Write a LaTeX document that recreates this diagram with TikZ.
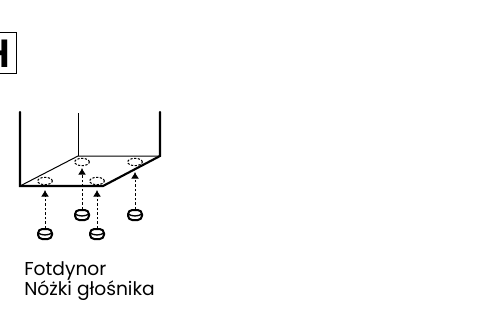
\documentclass[tikz,border=0pt]{standalone}
\usepackage{fontspec}
\setmainfont{Poppins}
\newfontfamily\hfont{Liberation Sans}
\usetikzlibrary{arrows.meta,shapes.geometric}
\tikzset{
  wall/.style={line width=1.6pt,line cap=round,line join=miter},
  thin edge/.style={line width=0.75pt},
  seat/.style={draw,dash pattern=on 1.7pt off 1.1pt,line width=0.75pt,ellipse,minimum width=11pt,minimum height=5.5pt,inner sep=0pt},
  foot/.style={line width=1.5pt},
  lift/.style={dash pattern=on 2pt off 1.4pt,line width=0.75pt,-{Latex[length=5pt,width=6pt]}},
  caption/.style={font=\fontsize{14pt}{14.25pt}\selectfont,align=left,inner sep=0pt,anchor=north west}
}
\begin{document}
\begin{tikzpicture}[x=0.75pt,y=-0.75pt]
\useasboundingbox (0,0) rectangle (481,330);
\begin{scope}
\clip (0,0) rectangle (481,330);
\node[inner sep=0pt,anchor=east,font=\fontsize{30pt}{30pt}\hfont\bfseries] (H) at (10.5,53.5) {H};
\draw[line width=1pt] (-5,32.5) -- (16.5,32.5) -- (16.5,73.5) -- (-5,73.5);
\end{scope}
% speaker
\coordinate (a) at (20,186);
\coordinate (b) at (103,186);
\coordinate (c) at (160,156);
\coordinate (d) at (78,156);
\coordinate (at) at (20,112);
\coordinate (ct) at (160,112);
\coordinate (dt) at (78,113);
\draw[thin edge] (d) -- (dt);
\draw[thin edge] (a) -- (d) -- (c);
\draw[wall] (at) -- (a) -- (b) -- (c) -- (ct);
% seats
\node[seat] (s1) at (45,181) {};
\node[seat] (s2) at (82,162) {};
\node[seat] (s3) at (97,181) {};
\node[seat] (s4) at (135,162) {};
% feet
\foreach \n/\x/\y in {f1/45/234,f2/82/215,f3/97/234,f4/135/215}{
  \coordinate (\n) at (\x,\y);
  \draw[foot,rounded corners=3.2pt] (\x-7,\y-5) rectangle (\x+7,\y+5);
  \draw[line width=1pt] (\x-7,\y-1) .. controls (\x-3,\y+1.6) and (\x+3,\y+1.6) .. (\x+7,\y-1);
  \coordinate (\n t) at (\x,\y-5.5);
}
\coordinate (t1) at (45,190);
\coordinate (t2) at (82,168);
\coordinate (t3) at (97,190);
\coordinate (t4) at (135,172);
\draw[lift] (f1t) -- (t1);
\draw[lift] (f2t) -- (t2);
\draw[lift] (f3t) -- (t3);
\draw[lift] (f4t) -- (t4);
\node[caption] (cap) at (24,261) {Fotdynor\\Nóżki głośnika};
\end{tikzpicture}
\end{document}
